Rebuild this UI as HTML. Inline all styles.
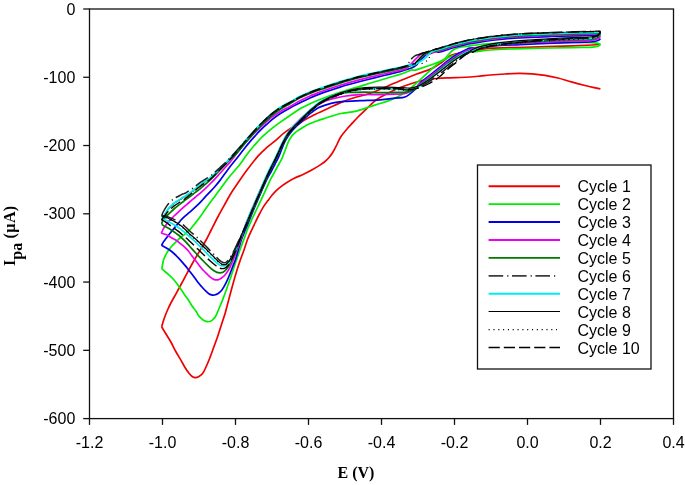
<!DOCTYPE html>
<html><head><meta charset="utf-8"><style>
html,body{margin:0;padding:0;background:#fff;}
body{width:685px;height:485px;overflow:hidden;}
svg{display:block;will-change:transform;}
.sans{font-family:"Liberation Sans",sans-serif;font-size:16px;fill:#000;}
.serif{font-family:"Liberation Serif",serif;font-weight:bold;font-size:16px;fill:#000;}
</style></head><body>
<svg width="685" height="485" viewBox="0 0 685 485">
<rect width="685" height="485" fill="#fff"/>
<g fill="none" stroke-linejoin="round" stroke-linecap="butt">
<path d="M161.60 326.80 C161.92 325.75 162.85 322.47 163.50 320.50 C164.15 318.53 164.72 317.00 165.50 315.00 C166.28 313.00 167.22 310.67 168.20 308.50 C169.18 306.33 170.35 304.00 171.40 302.00 C172.45 300.00 173.48 298.33 174.50 296.50 C175.52 294.67 176.42 293.00 177.50 291.00 C178.58 289.00 179.78 286.75 181.00 284.50 C182.22 282.25 183.55 279.83 184.80 277.50 C186.05 275.17 187.15 273.00 188.50 270.50 C189.85 268.00 191.57 264.87 192.90 262.50 C194.23 260.13 195.38 258.20 196.50 256.30 C197.62 254.40 198.00 253.82 199.60 251.10 C201.20 248.38 204.17 243.52 206.10 240.00 C208.03 236.48 209.25 233.83 211.20 230.00 C213.15 226.17 215.42 221.50 217.80 217.00 C220.18 212.50 223.47 206.67 225.50 203.00 C227.53 199.33 228.70 197.20 230.00 195.00 C231.30 192.80 231.65 192.30 233.30 189.80 C234.95 187.30 237.62 183.30 239.90 180.00 C242.18 176.70 243.98 173.98 247.00 170.00 C250.02 166.02 254.78 159.78 258.00 156.10 C261.22 152.42 263.55 150.37 266.30 147.90 C269.05 145.43 271.20 144.05 274.50 141.30 C277.80 138.55 281.73 134.57 286.10 131.40 C290.47 128.23 296.08 125.03 300.70 122.30 C305.32 119.57 309.18 117.33 313.80 115.00 C318.42 112.67 323.53 110.53 328.40 108.30 C333.27 106.06 338.13 103.52 343.00 101.60 C347.87 99.68 353.22 98.09 357.60 96.76 C361.98 95.43 364.32 95.36 369.30 93.60 C374.28 91.84 382.38 88.34 387.50 86.19 C392.62 84.05 395.25 82.74 400.00 80.75 C404.75 78.76 411.12 76.11 416.00 74.25 C420.88 72.39 426.30 70.74 429.30 69.60 C432.30 68.46 432.22 68.40 434.00 67.40 C435.78 66.40 438.17 64.87 440.00 63.60 C441.83 62.33 443.23 61.13 445.00 59.80 C446.77 58.47 448.93 56.57 450.60 55.60 C452.27 54.63 453.60 54.42 455.00 54.00 C456.40 53.58 456.83 53.52 459.00 53.10 C461.17 52.68 464.50 52.05 468.00 51.50 C471.50 50.95 476.27 50.37 480.00 49.80 C483.73 49.23 481.85 48.55 490.40 48.10 C498.95 47.65 517.67 47.48 531.30 47.10 C544.93 46.72 562.08 46.15 572.20 45.80 C582.32 45.45 587.30 45.23 592.00 45.00 C596.70 44.77 599.00 44.50 600.40 44.40" stroke="#f00000" stroke-width="1.70"/>
<path d="M161.60 326.80 C162.33 328.00 164.50 331.55 166.00 334.00 C167.50 336.45 169.02 338.67 170.60 341.50 C172.18 344.33 173.78 347.90 175.50 351.00 C177.22 354.10 179.32 357.35 180.90 360.10 C182.48 362.85 183.62 365.27 185.00 367.50 C186.38 369.73 187.95 371.97 189.20 373.50 C190.45 375.03 191.47 376.02 192.50 376.70 C193.53 377.38 194.40 377.58 195.40 377.60 C196.40 377.62 197.30 377.48 198.50 376.80 C199.70 376.12 201.35 375.13 202.60 373.50 C203.85 371.87 204.80 369.58 206.00 367.00 C207.20 364.42 208.47 361.42 209.80 358.00 C211.13 354.58 212.63 350.27 214.00 346.50 C215.37 342.73 216.75 339.07 218.00 335.40 C219.25 331.73 220.28 328.28 221.50 324.50 C222.72 320.72 224.22 316.37 225.30 312.70 C226.38 309.03 227.13 305.78 228.00 302.50 C228.87 299.22 229.58 296.42 230.50 293.00 C231.42 289.58 232.42 285.83 233.50 282.00 C234.58 278.17 235.83 273.75 237.00 270.00 C238.17 266.25 239.33 262.83 240.50 259.50 C241.67 256.17 242.83 253.33 244.00 250.00 C245.17 246.67 246.27 242.73 247.50 239.50 C248.73 236.27 250.07 233.54 251.40 230.61 C252.73 227.69 254.12 224.82 255.50 221.97 C256.88 219.12 258.33 216.12 259.70 213.52 C261.07 210.92 262.33 208.52 263.70 206.37 C265.07 204.22 266.52 202.45 267.90 200.61 C269.28 198.77 270.62 196.95 272.00 195.30 C273.38 193.65 274.87 192.04 276.20 190.71 C277.53 189.38 278.28 188.64 280.00 187.30 C281.72 185.96 284.03 184.22 286.50 182.68 C288.97 181.14 292.05 179.42 294.80 178.06 C297.55 176.70 300.25 175.79 303.00 174.50 C305.75 173.21 308.55 171.82 311.30 170.30 C314.05 168.78 317.22 166.87 319.50 165.40 C321.78 163.93 323.42 162.82 325.00 161.50 C326.58 160.18 327.72 159.00 329.00 157.50 C330.28 156.00 331.53 154.35 332.70 152.50 C333.87 150.65 334.62 149.07 336.00 146.40 C337.38 143.73 339.07 139.52 341.00 136.50 C342.93 133.48 345.68 130.57 347.60 128.30 C349.52 126.03 350.77 124.78 352.50 122.90 C354.23 121.02 355.80 119.20 358.00 117.00 C360.20 114.80 363.53 111.78 365.70 109.70 C367.87 107.62 369.28 106.12 371.00 104.50 C372.72 102.88 374.22 101.33 376.00 100.00 C377.78 98.67 378.80 98.08 381.70 96.50 C384.60 94.92 390.35 92.00 393.40 90.50 C396.45 89.00 396.83 88.72 400.00 87.50 C403.17 86.28 408.23 84.45 412.40 83.20 C416.57 81.95 420.90 80.78 425.00 80.00 C429.10 79.22 432.93 78.87 437.00 78.50 C441.07 78.13 445.57 77.97 449.40 77.80 C453.23 77.63 456.57 77.63 460.00 77.50 C463.43 77.37 466.67 77.23 470.00 77.00 C473.33 76.77 476.60 76.43 480.00 76.10 C483.40 75.77 486.23 75.35 490.40 75.00 C494.57 74.65 500.27 74.27 505.00 74.00 C509.73 73.73 514.30 73.43 518.80 73.40 C523.30 73.37 527.62 73.48 532.00 73.80 C536.38 74.12 540.77 74.60 545.10 75.30 C549.43 76.00 553.62 76.90 558.00 78.00 C562.38 79.10 566.90 80.65 571.40 81.90 C575.90 83.15 581.40 84.58 585.00 85.50 C588.60 86.42 590.43 86.85 593.00 87.40 C595.57 87.95 599.17 88.57 600.40 88.80" stroke="#f00000" stroke-width="1.70"/>
<path d="M161.80 268.80 C162.07 267.40 162.78 262.62 163.40 260.40 C164.02 258.18 164.73 257.05 165.50 255.50 C166.27 253.95 166.85 252.77 168.00 251.10 C169.15 249.43 170.85 247.27 172.40 245.50 C173.95 243.73 175.93 241.83 177.30 240.50 C178.67 239.17 179.32 238.55 180.60 237.50 C181.88 236.45 183.77 235.21 185.00 234.19 C186.23 233.16 187.00 232.29 188.00 231.34 C189.00 230.40 189.83 229.81 191.00 228.50 C192.17 227.19 193.50 225.38 195.00 223.47 C196.50 221.57 198.33 219.36 200.00 217.07 C201.67 214.78 203.33 212.14 205.00 209.75 C206.67 207.36 208.33 205.01 210.00 202.75 C211.67 200.49 213.33 198.45 215.00 196.21 C216.67 193.96 218.33 191.58 220.00 189.30 C221.67 187.01 223.33 184.69 225.00 182.47 C226.67 180.26 228.33 178.05 230.00 176.01 C231.67 173.97 233.33 172.19 235.00 170.24 C236.67 168.29 238.33 166.46 240.00 164.29 C241.67 162.12 243.33 159.52 245.00 157.22 C246.67 154.92 248.33 152.60 250.00 150.50 C251.67 148.40 253.33 146.57 255.00 144.65 C256.67 142.73 258.17 140.87 260.00 139.00 C261.83 137.13 264.00 135.21 266.00 133.44 C268.00 131.67 269.67 130.20 272.00 128.36 C274.33 126.52 277.00 124.55 280.00 122.40 C283.00 120.25 286.67 117.73 290.00 115.47 C293.33 113.22 296.67 110.82 300.00 108.85 C303.33 106.88 306.67 105.22 310.00 103.65 C313.33 102.08 316.67 100.75 320.00 99.45 C323.33 98.15 326.67 97.01 330.00 95.83 C333.33 94.66 336.67 93.49 340.00 92.40 C343.33 91.31 346.67 90.30 350.00 89.30 C353.33 88.30 356.67 87.41 360.00 86.40 C363.33 85.39 366.67 84.28 370.00 83.25 C373.33 82.22 376.67 81.19 380.00 80.20 C383.33 79.21 386.67 78.27 390.00 77.30 C393.33 76.33 397.33 75.25 400.00 74.40 C402.67 73.55 404.08 72.91 406.00 72.17 C407.92 71.44 410.00 70.33 411.50 70.00 C413.00 69.67 413.58 70.43 415.00 70.20 C416.42 69.97 417.62 69.38 420.00 68.60 C422.38 67.82 426.20 66.60 429.30 65.50 C432.40 64.40 436.32 62.92 438.60 62.00 C440.88 61.08 441.77 60.75 443.00 60.00 C444.23 59.25 445.08 58.42 446.00 57.50 C446.92 56.58 447.58 55.53 448.50 54.50 C449.42 53.47 450.37 52.25 451.50 51.30 C452.63 50.35 453.60 49.52 455.30 48.80 C457.00 48.08 459.25 47.48 461.70 47.00 C464.15 46.52 466.95 46.32 470.00 45.90 C473.05 45.48 475.00 44.95 480.00 44.50 C485.00 44.05 493.33 43.53 500.00 43.20 C506.67 42.87 510.00 42.60 520.00 42.50 C530.00 42.40 550.00 42.62 560.00 42.60 C570.00 42.58 574.67 42.40 580.00 42.40 C585.33 42.40 589.17 42.47 592.00 42.60 C594.83 42.73 595.60 42.92 597.00 43.20 C598.40 43.48 599.83 44.12 600.40 44.30" stroke="#00ee00" stroke-width="1.70"/>
<path d="M161.80 268.80 C162.52 269.42 164.13 270.72 166.10 272.50 C168.07 274.28 171.12 276.72 173.60 279.50 C176.08 282.28 179.15 286.63 181.00 289.20 C182.85 291.77 183.47 293.10 184.70 294.90 C185.93 296.70 187.17 298.15 188.40 300.00 C189.63 301.85 190.85 304.17 192.10 306.00 C193.35 307.83 194.87 309.47 195.90 311.00 C196.93 312.53 197.37 313.93 198.30 315.20 C199.23 316.47 200.47 317.67 201.50 318.60 C202.53 319.53 203.48 320.28 204.50 320.80 C205.52 321.32 206.60 321.62 207.60 321.70 C208.60 321.78 209.60 321.67 210.50 321.30 C211.40 320.93 212.17 320.30 213.00 319.50 C213.83 318.70 214.67 317.92 215.50 316.50 C216.33 315.08 217.17 312.92 218.00 311.00 C218.83 309.08 219.75 306.82 220.50 305.00 C221.25 303.18 221.58 302.47 222.50 300.10 C223.42 297.73 224.58 294.75 226.00 290.80 C227.42 286.85 229.42 281.10 231.00 276.43 C232.58 271.75 234.02 267.15 235.50 262.75 C236.98 258.35 238.48 253.96 239.90 250.00 C241.32 246.04 242.63 242.70 244.00 239.00 C245.37 235.30 246.72 231.22 248.10 227.80 C249.48 224.38 250.92 221.51 252.30 218.50 C253.68 215.49 255.03 212.65 256.40 209.74 C257.77 206.83 259.13 203.93 260.50 201.05 C261.87 198.17 263.08 195.75 264.60 192.46 C266.12 189.17 268.20 184.21 269.60 181.30 C271.00 178.39 271.85 177.13 273.00 175.00 C274.15 172.87 275.42 170.50 276.50 168.50 C277.58 166.50 278.55 164.78 279.50 163.00 C280.45 161.22 281.45 159.42 282.20 157.80 C282.95 156.18 283.45 154.72 284.00 153.30 C284.55 151.88 284.97 150.73 285.50 149.30 C286.03 147.87 286.65 146.12 287.20 144.70 C287.75 143.28 288.20 142.02 288.80 140.80 C289.40 139.58 290.10 138.43 290.80 137.40 C291.50 136.37 292.22 135.45 293.00 134.60 C293.78 133.75 294.67 132.98 295.50 132.30 C296.33 131.62 297.25 131.02 298.00 130.50 C298.75 129.98 299.00 129.82 300.00 129.20 C301.00 128.58 302.67 127.57 304.00 126.80 C305.33 126.03 306.00 125.53 308.00 124.60 C310.00 123.67 313.17 122.27 316.00 121.20 C318.83 120.13 322.17 119.10 325.00 118.20 C327.83 117.30 330.33 116.58 333.00 115.80 C335.67 115.02 337.75 114.16 341.00 113.50 C344.25 112.84 349.27 112.42 352.50 111.81 C355.73 111.21 357.65 110.67 360.40 109.87 C363.15 109.07 365.58 108.13 369.00 107.03 C372.42 105.92 377.40 104.42 380.90 103.26 C384.40 102.11 387.28 101.14 390.00 100.10 C392.72 99.06 395.03 98.09 397.20 97.01 C399.37 95.93 400.95 94.92 403.00 93.62 C405.05 92.33 407.50 90.81 409.50 89.26 C411.50 87.71 412.97 86.13 415.00 84.33 C417.03 82.52 419.53 80.42 421.70 78.44 C423.87 76.46 425.95 74.36 428.00 72.42 C430.05 70.48 432.00 68.55 434.00 66.81 C436.00 65.07 437.95 63.40 440.00 62.00 C442.05 60.60 443.97 59.50 446.30 58.40 C448.63 57.30 451.28 56.25 454.00 55.40 C456.72 54.55 459.93 53.83 462.60 53.30 C465.27 52.77 467.10 52.55 470.00 52.20 C472.90 51.85 476.60 51.57 480.00 51.20 C483.40 50.83 485.40 50.37 490.40 50.00 C495.40 49.63 503.18 49.27 510.00 49.00 C516.82 48.73 520.93 48.63 531.30 48.40 C541.67 48.17 562.42 47.78 572.20 47.60 C581.98 47.42 586.20 47.43 590.00 47.30 C593.80 47.17 593.58 47.02 595.00 46.80 C596.42 46.58 597.60 46.42 598.50 46.00 C599.40 45.58 600.08 44.58 600.40 44.30" stroke="#00ee00" stroke-width="1.70"/>
<path d="M161.50 245.50 C161.75 245.02 162.42 243.53 163.00 242.60 C163.58 241.67 164.08 241.14 165.00 239.90 C165.92 238.66 167.27 236.76 168.50 235.18 C169.73 233.59 171.07 232.00 172.40 230.37 C173.73 228.74 175.13 227.02 176.50 225.37 C177.87 223.72 179.18 221.99 180.60 220.46 C182.02 218.93 183.77 217.33 185.00 216.19 C186.23 215.04 187.00 214.45 188.00 213.59 C189.00 212.74 189.83 212.10 191.00 211.06 C192.17 210.02 193.50 208.78 195.00 207.38 C196.50 205.98 198.33 204.38 200.00 202.67 C201.67 200.97 203.33 198.94 205.00 197.15 C206.67 195.36 208.33 193.73 210.00 191.95 C211.67 190.17 213.33 188.42 215.00 186.48 C216.67 184.55 218.33 182.50 220.00 180.36 C221.67 178.21 223.33 175.87 225.00 173.60 C226.67 171.33 228.33 168.93 230.00 166.76 C231.67 164.59 233.33 162.68 235.00 160.59 C236.67 158.51 238.33 156.38 240.00 154.24 C241.67 152.11 243.33 149.87 245.00 147.77 C246.67 145.67 248.33 143.60 250.00 141.65 C251.67 139.70 253.33 137.90 255.00 136.08 C256.67 134.25 258.17 132.56 260.00 130.70 C261.83 128.84 264.00 126.78 266.00 124.94 C268.00 123.10 269.67 121.52 272.00 119.66 C274.33 117.80 277.00 115.76 280.00 113.80 C283.00 111.84 286.67 109.75 290.00 107.92 C293.33 106.10 296.67 104.50 300.00 102.85 C303.33 101.20 306.67 99.51 310.00 98.02 C313.33 96.53 316.67 95.18 320.00 93.91 C323.33 92.64 326.67 91.55 330.00 90.41 C333.33 89.28 336.67 88.14 340.00 87.10 C343.33 86.06 346.67 85.13 350.00 84.20 C353.33 83.27 356.67 82.38 360.00 81.50 C363.33 80.62 366.67 79.78 370.00 78.95 C373.33 78.12 376.67 77.32 380.00 76.50 C383.33 75.68 386.67 74.87 390.00 74.05 C393.33 73.23 397.33 72.31 400.00 71.60 C402.67 70.89 404.08 70.39 406.00 69.79 C407.92 69.19 409.83 68.75 411.50 68.00 C413.17 67.25 414.68 66.42 416.00 65.30 C417.32 64.18 418.10 62.70 419.40 61.30 C420.70 59.90 422.32 58.30 423.80 56.90 C425.28 55.50 427.15 53.73 428.30 52.90 C429.45 52.07 429.63 52.18 430.70 51.90 C431.77 51.62 433.15 51.18 434.70 51.20 C436.25 51.22 437.55 52.37 440.00 52.00 C442.45 51.63 446.90 49.78 449.40 49.00 C451.90 48.22 452.93 47.87 455.00 47.30 C457.07 46.73 459.30 46.20 461.80 45.60 C464.30 45.00 466.97 44.28 470.00 43.70 C473.03 43.12 475.83 42.72 480.00 42.10 C484.17 41.48 489.85 40.62 495.00 40.00 C500.15 39.38 505.07 38.85 510.90 38.40 C516.73 37.95 523.20 37.62 530.00 37.30 C536.80 36.98 544.20 36.75 551.70 36.50 C559.20 36.25 568.62 35.98 575.00 35.80 C581.38 35.62 586.33 35.50 590.00 35.40 C593.67 35.30 595.27 35.23 597.00 35.20 C598.73 35.17 599.83 35.20 600.40 35.20" stroke="#0000e6" stroke-width="1.70"/>
<path d="M161.50 245.20 C162.08 245.55 163.60 246.45 165.00 247.30 C166.40 248.15 168.32 249.18 169.90 250.30 C171.48 251.42 172.97 252.62 174.50 254.00 C176.03 255.38 177.35 256.70 179.10 258.60 C180.85 260.50 183.45 263.55 185.00 265.40 C186.55 267.25 187.20 268.18 188.40 269.70 C189.60 271.22 190.65 272.45 192.20 274.50 C193.75 276.55 196.15 280.00 197.70 282.00 C199.25 284.00 200.25 285.08 201.50 286.50 C202.75 287.92 204.03 289.33 205.20 290.50 C206.37 291.67 207.45 292.77 208.50 293.50 C209.55 294.23 210.50 294.65 211.50 294.90 C212.50 295.15 213.38 295.23 214.50 295.00 C215.62 294.77 217.03 294.25 218.20 293.50 C219.37 292.75 220.53 291.65 221.50 290.50 C222.47 289.35 223.08 288.24 224.00 286.62 C224.92 285.00 226.05 282.83 227.00 280.80 C227.95 278.77 228.78 276.75 229.70 274.46 C230.62 272.17 231.53 269.56 232.50 267.07 C233.47 264.59 234.58 262.20 235.50 259.52 C236.42 256.85 237.28 253.42 238.00 251.00 C238.72 248.58 239.13 247.17 239.80 245.00 C240.47 242.83 241.05 240.58 242.00 238.00 C242.95 235.42 244.25 232.50 245.50 229.50 C246.75 226.50 248.17 223.25 249.50 220.00 C250.83 216.75 252.08 213.42 253.50 210.00 C254.92 206.58 256.50 203.00 258.00 199.50 C259.50 196.00 261.00 192.42 262.50 189.00 C264.00 185.58 265.55 181.92 267.00 179.00 C268.45 176.08 269.90 173.92 271.20 171.50 C272.50 169.08 273.62 166.80 274.80 164.50 C275.98 162.20 277.18 160.19 278.30 157.70 C279.42 155.21 280.40 152.23 281.50 149.57 C282.60 146.92 283.92 143.78 284.90 141.75 C285.88 139.71 286.58 138.71 287.40 137.37 C288.22 136.03 288.53 135.29 289.80 133.69 C291.07 132.09 293.07 129.73 295.00 127.75 C296.93 125.77 299.57 123.60 301.40 121.83 C303.23 120.07 304.35 118.68 306.00 117.15 C307.65 115.62 309.30 114.22 311.30 112.68 C313.30 111.15 315.25 109.33 318.00 107.95 C320.75 106.57 324.80 105.33 327.80 104.41 C330.80 103.48 333.25 102.89 336.00 102.40 C338.75 101.91 340.17 101.73 344.30 101.45 C348.43 101.16 354.85 100.95 360.80 100.69 C366.75 100.43 374.30 100.31 380.00 99.90 C385.70 99.49 390.83 98.68 395.00 98.20 C399.17 97.72 401.83 98.28 405.00 97.00 C408.17 95.72 411.50 92.83 414.00 90.50 C416.50 88.17 417.45 85.48 420.00 83.00 C422.55 80.52 426.20 78.07 429.30 75.60 C432.40 73.13 435.52 70.67 438.60 68.20 C441.68 65.73 444.72 63.12 447.80 60.80 C450.88 58.48 454.00 56.17 457.10 54.30 C460.20 52.43 464.25 50.63 466.40 49.60 C468.55 48.57 467.73 48.45 470.00 48.10 C472.27 47.75 475.00 47.93 480.00 47.50 C485.00 47.07 493.33 45.98 500.00 45.50 C506.67 45.02 510.00 45.03 520.00 44.60 C530.00 44.17 549.17 43.30 560.00 42.90 C570.83 42.50 579.33 42.43 585.00 42.20 C590.67 41.97 591.75 41.82 594.00 41.50 C596.25 41.18 597.43 40.80 598.50 40.30 C599.57 39.80 600.08 38.80 600.40 38.50" stroke="#0000e6" stroke-width="1.70"/>
<path d="M161.30 233.30 C161.63 232.55 162.62 230.05 163.30 228.80 C163.98 227.55 164.62 226.90 165.40 225.80 C166.18 224.70 167.17 223.23 168.00 222.20 C168.83 221.17 169.40 220.63 170.40 219.60 C171.40 218.57 172.73 217.22 174.00 216.00 C175.27 214.78 176.67 213.53 178.00 212.30 C179.33 211.07 180.52 209.93 182.00 208.60 C183.48 207.27 185.40 205.58 186.90 204.30 C188.40 203.02 189.65 202.03 191.00 200.90 C192.35 199.77 193.50 198.77 195.00 197.50 C196.50 196.23 198.33 194.75 200.00 193.30 C201.67 191.85 203.33 190.35 205.00 188.80 C206.67 187.25 208.33 185.67 210.00 184.00 C211.67 182.33 213.33 180.58 215.00 178.80 C216.67 177.02 218.33 175.13 220.00 173.30 C221.67 171.47 223.33 169.67 225.00 167.80 C226.67 165.93 228.33 164.11 230.00 162.10 C231.67 160.09 233.33 157.91 235.00 155.77 C236.67 153.62 238.33 151.32 240.00 149.24 C241.67 147.17 243.33 145.22 245.00 143.30 C246.67 141.37 248.33 139.47 250.00 137.70 C251.67 135.93 253.33 134.30 255.00 132.65 C256.67 131.00 258.17 129.54 260.00 127.80 C261.83 126.06 264.00 123.98 266.00 122.19 C268.00 120.40 269.67 118.81 272.00 117.06 C274.33 115.31 277.00 113.44 280.00 111.67 C283.00 109.89 286.67 108.23 290.00 106.42 C293.33 104.62 296.67 102.59 300.00 100.85 C303.33 99.11 306.67 97.45 310.00 95.98 C313.33 94.51 316.67 93.27 320.00 92.03 C323.33 90.79 326.67 89.69 330.00 88.57 C333.33 87.45 336.67 86.34 340.00 85.30 C343.33 84.26 346.67 83.30 350.00 82.35 C353.33 81.40 356.67 80.46 360.00 79.60 C363.33 78.74 366.67 77.98 370.00 77.20 C373.33 76.42 376.67 75.67 380.00 74.90 C383.33 74.13 386.67 73.37 390.00 72.60 C393.33 71.83 397.33 70.96 400.00 70.30 C402.67 69.64 404.27 69.56 406.00 68.65 C407.73 67.73 408.92 66.26 410.40 64.80 C411.88 63.34 413.17 61.63 414.90 59.90 C416.63 58.17 419.28 55.52 420.80 54.40 C422.32 53.28 422.83 53.22 424.00 53.20 C425.17 53.18 426.02 54.47 427.80 54.30 C429.58 54.13 432.67 52.78 434.70 52.20 C436.73 51.62 437.55 51.53 440.00 50.80 C442.45 50.07 446.90 48.58 449.40 47.80 C451.90 47.02 452.93 46.67 455.00 46.10 C457.07 45.53 459.30 45.00 461.80 44.40 C464.30 43.80 466.97 43.08 470.00 42.50 C473.03 41.92 475.83 41.52 480.00 40.90 C484.17 40.28 489.85 39.42 495.00 38.80 C500.15 38.18 505.07 37.65 510.90 37.20 C516.73 36.75 523.20 36.42 530.00 36.10 C536.80 35.78 544.20 35.55 551.70 35.30 C559.20 35.05 568.62 34.78 575.00 34.60 C581.38 34.42 586.33 34.30 590.00 34.20 C593.67 34.10 595.27 34.03 597.00 34.00 C598.73 33.97 599.83 34.00 600.40 34.00" stroke="#ee00ee" stroke-width="1.70"/>
<path d="M161.30 233.20 C162.18 233.45 164.98 233.98 166.60 234.70 C168.22 235.42 169.35 236.53 171.00 237.50 C172.65 238.47 175.00 239.53 176.50 240.50 C178.00 241.47 178.63 242.18 180.00 243.30 C181.37 244.42 183.37 246.00 184.70 247.20 C186.03 248.40 186.75 249.00 188.00 250.50 C189.25 252.00 190.30 253.67 192.20 256.20 C194.10 258.73 197.60 263.40 199.40 265.70 C201.20 268.00 201.80 268.68 203.00 270.00 C204.20 271.32 205.43 272.47 206.60 273.60 C207.77 274.73 208.93 275.90 210.00 276.80 C211.07 277.70 212.08 278.48 213.00 279.00 C213.92 279.52 214.58 279.78 215.50 279.90 C216.42 280.02 217.57 279.98 218.50 279.70 C219.43 279.42 220.18 278.82 221.10 278.20 C222.02 277.58 223.05 276.95 224.00 276.00 C224.95 275.05 225.85 273.87 226.80 272.50 C227.75 271.13 228.73 269.63 229.70 267.80 C230.67 265.97 231.63 263.80 232.60 261.50 C233.57 259.20 234.53 256.53 235.50 254.00 C236.47 251.47 237.53 248.67 238.40 246.30 C239.27 243.93 239.93 242.10 240.70 239.80 C241.47 237.50 242.12 235.22 243.00 232.50 C243.88 229.78 244.83 226.58 246.00 223.50 C247.17 220.42 248.67 217.17 250.00 214.00 C251.33 210.83 252.58 207.83 254.00 204.50 C255.42 201.17 257.00 197.42 258.50 194.00 C260.00 190.58 261.50 187.25 263.00 184.00 C264.50 180.75 266.08 177.42 267.50 174.50 C268.92 171.58 270.17 169.17 271.50 166.50 C272.83 163.83 274.25 161.08 275.50 158.50 C276.75 155.92 277.83 153.57 279.00 151.00 C280.17 148.43 281.42 145.40 282.50 143.10 C283.58 140.80 284.42 139.09 285.50 137.22 C286.58 135.35 287.67 133.72 289.00 131.86 C290.33 130.00 291.83 127.97 293.50 126.04 C295.17 124.11 296.92 122.28 299.00 120.26 C301.08 118.24 303.83 115.79 306.00 113.92 C308.17 112.05 310.30 110.34 312.00 109.04 C313.70 107.74 314.53 107.18 316.20 106.12 C317.87 105.07 320.07 103.69 322.00 102.70 C323.93 101.71 325.63 100.96 327.80 100.20 C329.97 99.44 332.25 98.82 335.00 98.17 C337.75 97.51 340.13 96.86 344.30 96.26 C348.47 95.67 354.05 94.88 360.00 94.60 C365.95 94.32 374.17 94.67 380.00 94.60 C385.83 94.53 390.83 94.38 395.00 94.20 C399.17 94.02 401.83 94.37 405.00 93.50 C408.17 92.63 411.50 90.58 414.00 89.00 C416.50 87.42 417.45 86.00 420.00 84.00 C422.55 82.00 426.20 79.38 429.30 77.00 C432.40 74.62 435.52 72.15 438.60 69.70 C441.68 67.25 444.72 64.62 447.80 62.30 C450.88 59.98 454.00 57.68 457.10 55.80 C460.20 53.92 464.25 52.05 466.40 51.00 C468.55 49.95 467.73 50.18 470.00 49.50 C472.27 48.82 475.00 47.72 480.00 46.90 C485.00 46.08 493.33 45.20 500.00 44.60 C506.67 44.00 510.00 43.83 520.00 43.30 C530.00 42.77 549.17 41.85 560.00 41.40 C570.83 40.95 579.33 40.87 585.00 40.60 C590.67 40.33 591.75 40.18 594.00 39.80 C596.25 39.42 597.43 38.93 598.50 38.30 C599.57 37.67 600.08 36.38 600.40 36.00" stroke="#ee00ee" stroke-width="1.70"/>
<path d="M161.80 224.50 C161.88 224.00 161.93 222.45 162.30 221.50 C162.67 220.55 163.35 219.65 164.00 218.80 C164.65 217.95 165.13 217.48 166.20 216.40 C167.27 215.32 169.02 213.62 170.40 212.30 C171.78 210.98 173.13 209.68 174.50 208.50 C175.87 207.32 177.23 206.28 178.60 205.20 C179.97 204.12 181.32 203.07 182.70 202.00 C184.08 200.93 185.52 199.82 186.90 198.80 C188.28 197.78 189.65 196.92 191.00 195.90 C192.35 194.88 193.50 193.88 195.00 192.70 C196.50 191.52 198.33 190.15 200.00 188.80 C201.67 187.45 203.33 186.03 205.00 184.60 C206.67 183.17 208.33 181.77 210.00 180.20 C211.67 178.63 213.33 176.92 215.00 175.20 C216.67 173.48 218.33 171.65 220.00 169.90 C221.67 168.15 223.33 166.43 225.00 164.70 C226.67 162.97 228.33 161.08 230.00 159.50 C231.67 157.92 233.33 156.89 235.00 155.22 C236.67 153.54 238.33 151.43 240.00 149.44 C241.67 147.45 243.33 145.27 245.00 143.27 C246.67 141.27 248.33 139.34 250.00 137.45 C251.67 135.56 253.33 133.73 255.00 131.93 C256.67 130.12 258.17 128.47 260.00 126.60 C261.83 124.73 264.00 122.61 266.00 120.73 C268.00 118.85 269.67 117.22 272.00 115.34 C274.33 113.46 277.00 111.38 280.00 109.43 C283.00 107.49 286.67 105.61 290.00 103.67 C293.33 101.74 296.67 99.55 300.00 97.85 C303.33 96.15 306.67 94.80 310.00 93.45 C313.33 92.10 316.67 90.94 320.00 89.75 C323.33 88.56 326.67 87.44 330.00 86.33 C333.33 85.22 336.67 84.12 340.00 83.10 C343.33 82.08 346.67 81.13 350.00 80.20 C353.33 79.27 356.67 78.33 360.00 77.50 C363.33 76.67 366.67 75.95 370.00 75.20 C373.33 74.45 376.67 73.73 380.00 73.00 C383.33 72.27 386.67 71.53 390.00 70.80 C393.33 70.07 397.33 69.22 400.00 68.60 C402.67 67.98 404.08 67.57 406.00 67.05 C407.92 66.53 410.17 65.88 411.50 65.50 C412.83 65.12 412.85 65.68 414.00 64.80 C415.15 63.92 416.93 61.73 418.40 60.20 C419.87 58.67 421.53 56.75 422.80 55.60 C424.07 54.45 424.02 54.00 426.00 53.30 C427.98 52.60 432.37 51.95 434.70 51.40 C437.03 50.85 437.55 50.73 440.00 50.00 C442.45 49.27 446.90 47.78 449.40 47.00 C451.90 46.22 452.93 45.87 455.00 45.30 C457.07 44.73 459.30 44.20 461.80 43.60 C464.30 43.00 466.97 42.28 470.00 41.70 C473.03 41.12 475.83 40.72 480.00 40.10 C484.17 39.48 489.85 38.62 495.00 38.00 C500.15 37.38 505.07 36.85 510.90 36.40 C516.73 35.95 523.20 35.62 530.00 35.30 C536.80 34.98 544.20 34.75 551.70 34.50 C559.20 34.25 568.62 33.98 575.00 33.80 C581.38 33.62 586.33 33.50 590.00 33.40 C593.67 33.30 595.27 33.23 597.00 33.20 C598.73 33.17 599.83 33.20 600.40 33.20" stroke="#007800" stroke-width="1.70"/>
<path d="M161.80 224.50 C162.33 224.83 163.88 225.87 165.00 226.50 C166.12 227.13 167.27 227.58 168.50 228.30 C169.73 229.02 171.07 229.95 172.40 230.84 C173.73 231.73 175.13 232.66 176.50 233.65 C177.87 234.64 179.18 235.56 180.60 236.79 C182.02 238.02 183.43 239.40 185.00 241.05 C186.57 242.70 188.33 244.84 190.00 246.70 C191.67 248.56 193.33 250.37 195.00 252.20 C196.67 254.03 198.33 255.94 200.00 257.70 C201.67 259.46 203.33 261.10 205.00 262.75 C206.67 264.40 208.50 266.27 210.00 267.60 C211.50 268.93 212.83 269.93 214.00 270.72 C215.17 271.51 216.00 272.01 217.00 272.36 C218.00 272.71 219.00 272.83 220.00 272.80 C221.00 272.77 222.00 272.70 223.00 272.20 C224.00 271.70 225.00 270.92 226.00 269.80 C227.00 268.68 228.00 267.22 229.00 265.50 C230.00 263.78 230.92 261.78 232.00 259.50 C233.08 257.22 234.50 254.17 235.50 251.80 C236.50 249.43 237.15 247.48 238.00 245.30 C238.85 243.12 239.68 241.08 240.60 238.70 C241.52 236.32 242.05 234.40 243.50 231.00 C244.95 227.60 247.63 222.08 249.30 218.30 C250.97 214.52 252.10 211.58 253.50 208.30 C254.90 205.02 256.32 201.77 257.70 198.60 C259.08 195.43 260.50 192.27 261.80 189.30 C263.10 186.33 264.27 183.60 265.50 180.80 C266.73 178.00 268.03 175.00 269.20 172.50 C270.37 170.00 271.40 168.00 272.50 165.80 C273.60 163.60 274.75 161.47 275.80 159.30 C276.85 157.13 277.85 154.86 278.80 152.80 C279.75 150.74 280.63 148.73 281.50 146.91 C282.37 145.10 283.08 143.66 284.00 141.90 C284.92 140.14 286.08 137.89 287.00 136.33 C287.92 134.76 288.67 133.65 289.50 132.51 C290.33 131.38 291.00 130.63 292.00 129.50 C293.00 128.38 294.42 126.86 295.50 125.76 C296.58 124.66 297.17 124.21 298.50 122.89 C299.83 121.57 301.83 119.51 303.50 117.85 C305.17 116.19 306.83 114.49 308.50 112.93 C310.17 111.37 311.58 110.09 313.50 108.50 C315.42 106.91 317.67 104.97 320.00 103.40 C322.33 101.83 324.75 100.42 327.50 99.08 C330.25 97.73 333.67 96.41 336.50 95.35 C339.33 94.29 341.83 93.20 344.50 92.72 C347.17 92.23 349.08 92.54 352.50 92.44 C355.92 92.34 360.42 92.06 365.00 92.10 C369.58 92.14 375.00 92.62 380.00 92.68 C385.00 92.74 390.50 92.56 395.00 92.46 C399.50 92.35 404.17 92.33 407.00 92.04 C409.83 91.76 410.50 91.33 412.00 90.74 C413.50 90.15 414.67 89.42 416.00 88.50 C417.33 87.58 417.78 86.88 420.00 85.20 C422.22 83.52 426.20 80.77 429.30 78.40 C432.40 76.03 435.52 73.47 438.60 71.00 C441.68 68.53 444.72 65.93 447.80 63.60 C450.88 61.27 454.00 58.90 457.10 57.00 C460.20 55.10 464.25 53.27 466.40 52.20 C468.55 51.13 468.90 50.81 470.00 50.60 C471.10 50.39 471.33 51.32 473.00 50.96 C474.67 50.60 477.17 49.25 480.00 48.45 C482.83 47.65 486.67 46.76 490.00 46.14 C493.33 45.52 495.00 45.30 500.00 44.73 C505.00 44.15 513.33 43.28 520.00 42.70 C526.67 42.13 533.33 41.68 540.00 41.28 C546.67 40.87 553.33 40.54 560.00 40.25 C566.67 39.96 575.00 39.71 580.00 39.53 C585.00 39.34 587.50 39.30 590.00 39.11 C592.50 38.93 593.58 38.84 595.00 38.41 C596.42 37.97 597.60 37.32 598.50 36.50 C599.40 35.68 600.08 34.00 600.40 33.50" stroke="#007800" stroke-width="1.70"/>
<path d="M161.50 218.50 C162.08 218.70 163.88 219.23 165.00 219.70 C166.12 220.17 167.03 220.65 168.20 221.30 C169.37 221.95 170.62 222.77 172.00 223.60 C173.38 224.43 175.17 225.47 176.50 226.30 C177.83 227.13 178.90 227.78 180.00 228.60 C181.10 229.42 182.02 230.33 183.10 231.20 C184.18 232.07 185.35 232.87 186.50 233.80 C187.65 234.73 188.58 235.52 190.00 236.80 C191.42 238.08 193.33 239.90 195.00 241.50 C196.67 243.10 198.33 244.73 200.00 246.40 C201.67 248.07 203.33 249.80 205.00 251.50 C206.67 253.20 208.33 254.95 210.00 256.60 C211.67 258.25 213.50 260.07 215.00 261.40 C216.50 262.73 217.83 263.87 219.00 264.60 C220.17 265.33 221.00 265.63 222.00 265.80 C223.00 265.97 224.00 266.02 225.00 265.60 C226.00 265.18 227.00 264.40 228.00 263.30 C229.00 262.20 230.00 260.68 231.00 259.00 C232.00 257.32 233.00 255.28 234.00 253.20 C235.00 251.12 236.00 248.83 237.00 246.50 C238.00 244.17 239.08 241.42 240.00 239.20 C240.92 236.98 241.13 236.73 242.50 233.20 C243.87 229.67 246.55 222.20 248.20 218.00 C249.85 213.80 251.00 211.28 252.40 208.00 C253.80 204.72 255.22 201.47 256.60 198.30 C257.98 195.13 259.40 191.97 260.70 189.00 C262.00 186.03 263.17 183.30 264.40 180.50 C265.63 177.70 266.93 174.70 268.10 172.20 C269.27 169.70 270.30 167.70 271.40 165.50 C272.50 163.30 273.65 161.17 274.70 159.00 C275.75 156.83 276.75 154.58 277.70 152.50 C278.65 150.42 279.53 148.36 280.40 146.53 C281.27 144.70 281.98 143.29 282.90 141.53 C283.82 139.77 284.98 137.53 285.90 135.97 C286.82 134.41 287.57 133.31 288.40 132.17 C289.23 131.04 289.90 130.29 290.90 129.16 C291.90 128.04 293.32 126.52 294.40 125.41 C295.48 124.30 296.07 123.84 297.40 122.52 C298.73 121.20 300.73 119.17 302.40 117.50 C304.07 115.83 305.73 114.08 307.40 112.50 C309.07 110.92 310.48 109.62 312.40 108.00 C314.32 106.38 316.57 104.39 318.90 102.80 C321.23 101.21 323.65 99.82 326.40 98.47 C329.15 97.11 332.57 95.77 335.40 94.69 C338.23 93.61 340.55 92.66 343.40 91.96 C346.25 91.25 348.90 90.96 352.50 90.45 C356.10 89.94 360.42 89.21 365.00 88.90 C369.58 88.59 375.00 88.58 380.00 88.60 C385.00 88.62 390.00 88.83 395.00 89.00 C400.00 89.17 406.50 89.77 410.00 89.60 C413.50 89.43 414.33 88.63 416.00 88.00 C417.67 87.37 417.78 87.25 420.00 85.80 C422.22 84.35 426.20 81.62 429.30 79.30 C432.40 76.98 435.52 74.37 438.60 71.90 C441.68 69.43 444.72 66.82 447.80 64.50 C450.88 62.18 454.32 59.87 457.10 58.00 C459.88 56.13 462.35 54.50 464.50 53.30 C466.65 52.10 468.58 51.35 470.00 50.80 C471.42 50.25 471.33 50.55 473.00 50.00 C474.67 49.45 477.17 48.30 480.00 47.50 C482.83 46.70 486.67 45.83 490.00 45.20 C493.33 44.57 495.00 44.28 500.00 43.70 C505.00 43.12 513.33 42.25 520.00 41.70 C526.67 41.15 533.33 40.77 540.00 40.40 C546.67 40.03 553.33 39.77 560.00 39.50 C566.67 39.23 575.00 39.00 580.00 38.80 C585.00 38.60 587.50 38.52 590.00 38.30 C592.50 38.08 593.58 37.97 595.00 37.50 C596.42 37.03 597.60 36.35 598.50 35.50 C599.40 34.65 600.08 32.92 600.40 32.40" stroke="#00eeee" stroke-width="1.70"/>
<path d="M161.70 219.85 C161.92 219.36 162.52 217.79 163.00 216.94 C163.48 216.09 164.02 215.62 164.60 214.75 C165.18 213.88 165.82 212.73 166.50 211.72 C167.18 210.71 167.87 209.69 168.70 208.70 C169.53 207.71 170.53 206.72 171.50 205.78 C172.47 204.84 173.33 203.96 174.50 203.07 C175.67 202.18 177.13 201.34 178.50 200.46 C179.87 199.57 181.62 198.45 182.70 197.79 C183.78 197.12 184.12 197.05 185.00 196.49 C185.88 195.92 187.00 195.08 188.00 194.39 C189.00 193.71 189.83 193.22 191.00 192.36 C192.17 191.50 193.50 190.44 195.00 189.26 C196.50 188.08 198.33 186.55 200.00 185.27 C201.67 183.99 203.33 182.77 205.00 181.60 C206.67 180.43 208.33 179.57 210.00 178.25 C211.67 176.93 213.33 175.27 215.00 173.67 C216.67 172.07 218.33 170.30 220.00 168.67 C221.67 167.04 223.33 165.55 225.00 163.88 C226.67 162.20 228.33 160.42 230.00 158.61 C231.67 156.80 233.33 154.91 235.00 153.02 C236.67 151.13 238.33 149.20 240.00 147.26 C241.67 145.32 243.33 143.27 245.00 141.36 C246.67 139.44 248.33 137.64 250.00 135.79 C251.67 133.95 253.33 132.09 255.00 130.28 C256.67 128.48 258.17 126.80 260.00 124.96 C261.83 123.13 264.00 121.08 266.00 119.25 C268.00 117.42 269.67 115.83 272.00 114.00 C274.33 112.18 277.00 110.16 280.00 108.29 C283.00 106.42 286.67 104.62 290.00 102.77 C293.33 100.92 296.67 98.85 300.00 97.18 C303.33 95.52 306.67 94.13 310.00 92.77 C313.33 91.42 316.67 90.25 320.00 89.06 C323.33 87.87 326.67 86.74 330.00 85.63 C333.33 84.52 336.67 83.41 340.00 82.39 C343.33 81.36 346.67 80.41 350.00 79.48 C353.33 78.54 356.67 77.60 360.00 76.77 C363.33 75.93 366.67 75.21 370.00 74.46 C373.33 73.70 376.67 72.98 380.00 72.24 C383.33 71.51 386.67 70.77 390.00 70.03 C393.33 69.30 397.33 68.45 400.00 67.82 C402.67 67.19 404.33 66.70 406.00 66.27 C407.67 65.83 408.68 65.53 410.00 65.20 C411.32 64.87 412.50 65.23 413.90 64.30 C415.30 63.37 416.92 61.17 418.40 59.60 C419.88 58.03 421.53 56.10 422.80 54.90 C424.07 53.70 424.02 53.25 426.00 52.40 C427.98 51.55 432.37 50.47 434.70 49.80 C437.03 49.13 437.55 49.13 440.00 48.40 C442.45 47.67 446.90 46.18 449.40 45.40 C451.90 44.62 452.93 44.27 455.00 43.70 C457.07 43.13 459.30 42.60 461.80 42.00 C464.30 41.40 466.97 40.68 470.00 40.10 C473.03 39.52 475.83 39.12 480.00 38.50 C484.17 37.88 489.85 37.02 495.00 36.40 C500.15 35.78 505.07 35.25 510.90 34.80 C516.73 34.35 523.20 34.02 530.00 33.70 C536.80 33.38 544.20 33.15 551.70 32.90 C559.20 32.65 568.62 32.38 575.00 32.20 C581.38 32.02 586.33 31.90 590.00 31.80 C593.67 31.70 595.27 31.63 597.00 31.60 C598.73 31.57 599.83 31.60 600.40 31.60" stroke="#000" stroke-width="1.20"/>
<path d="M161.70 220.05 C161.92 219.56 162.52 217.99 163.00 217.14 C163.48 216.29 164.02 215.82 164.60 214.95 C165.18 214.08 165.82 212.93 166.50 211.92 C167.18 210.91 167.87 209.89 168.70 208.90 C169.53 207.91 170.53 206.92 171.50 205.98 C172.47 205.04 173.33 204.16 174.50 203.27 C175.67 202.38 177.13 201.54 178.50 200.66 C179.87 199.77 181.62 198.65 182.70 197.99 C183.78 197.32 184.12 197.25 185.00 196.69 C185.88 196.12 187.00 195.28 188.00 194.59 C189.00 193.91 189.83 193.42 191.00 192.56 C192.17 191.70 193.50 190.64 195.00 189.46 C196.50 188.28 198.33 186.75 200.00 185.47 C201.67 184.19 203.33 182.97 205.00 181.80 C206.67 180.63 208.33 179.77 210.00 178.45 C211.67 177.13 213.33 175.47 215.00 173.87 C216.67 172.27 218.33 170.50 220.00 168.87 C221.67 167.24 223.33 165.75 225.00 164.07 C226.67 162.40 228.33 160.62 230.00 158.81 C231.67 157.00 233.33 155.09 235.00 153.22 C236.67 151.34 238.33 149.46 240.00 147.54 C241.67 145.62 243.33 143.59 245.00 141.70 C246.67 139.80 248.33 138.01 250.00 136.18 C251.67 134.35 253.33 132.49 255.00 130.69 C256.67 128.89 258.17 127.22 260.00 125.38 C261.83 123.54 264.00 121.49 266.00 119.65 C268.00 117.81 269.67 116.19 272.00 114.34 C274.33 112.48 277.00 110.42 280.00 108.53 C283.00 106.65 286.67 104.87 290.00 103.02 C293.33 101.17 296.67 99.10 300.00 97.44 C303.33 95.77 306.67 94.38 310.00 93.03 C313.33 91.68 316.67 90.51 320.00 89.32 C323.33 88.13 326.67 87.01 330.00 85.90 C333.33 84.78 336.67 83.68 340.00 82.66 C343.33 81.63 346.67 80.69 350.00 79.75 C353.33 78.81 356.67 77.88 360.00 77.04 C363.33 76.21 366.67 75.49 370.00 74.74 C373.33 73.98 376.67 73.26 380.00 72.53 C383.33 71.79 386.67 71.06 390.00 70.32 C393.33 69.59 397.33 68.74 400.00 68.11 C402.67 67.49 404.08 67.08 406.00 66.56 C407.92 66.04 410.00 65.30 411.50 65.01 C413.00 64.71 413.85 64.92 415.00 64.80 C416.15 64.68 416.93 64.63 418.40 64.30 C419.87 63.97 422.23 63.53 423.80 62.80 C425.37 62.07 426.88 60.80 427.80 59.90 C428.72 59.00 428.77 58.47 429.30 57.40 C429.83 56.33 430.10 54.68 431.00 53.50 C431.90 52.32 433.20 51.08 434.70 50.30 C436.20 49.52 437.55 49.55 440.00 48.80 C442.45 48.05 446.90 46.58 449.40 45.80 C451.90 45.02 452.93 44.67 455.00 44.10 C457.07 43.53 459.30 43.00 461.80 42.40 C464.30 41.80 466.97 41.08 470.00 40.50 C473.03 39.92 475.83 39.52 480.00 38.90 C484.17 38.28 489.85 37.42 495.00 36.80 C500.15 36.18 505.07 35.65 510.90 35.20 C516.73 34.75 523.20 34.42 530.00 34.10 C536.80 33.78 544.20 33.55 551.70 33.30 C559.20 33.05 568.62 32.78 575.00 32.60 C581.38 32.42 586.33 32.30 590.00 32.20 C593.67 32.10 595.27 32.03 597.00 32.00 C598.73 31.97 599.83 32.00 600.40 32.00" stroke="#000" stroke-width="1.20" stroke-dasharray="1.1 3.72"/>
<path d="M161.70 219.55 C161.92 219.06 162.52 217.49 163.00 216.64 C163.48 215.79 164.02 215.32 164.60 214.45 C165.18 213.58 165.82 212.43 166.50 211.42 C167.18 210.41 167.87 209.39 168.70 208.40 C169.53 207.41 170.53 206.42 171.50 205.48 C172.47 204.54 173.33 203.66 174.50 202.77 C175.67 201.88 177.13 201.04 178.50 200.16 C179.87 199.27 181.62 198.15 182.70 197.49 C183.78 196.82 184.12 196.75 185.00 196.19 C185.88 195.62 187.00 194.78 188.00 194.09 C189.00 193.41 189.83 192.92 191.00 192.06 C192.17 191.20 193.50 190.14 195.00 188.96 C196.50 187.78 198.33 186.25 200.00 184.97 C201.67 183.69 203.33 182.47 205.00 181.30 C206.67 180.13 208.33 179.27 210.00 177.95 C211.67 176.63 213.33 174.97 215.00 173.37 C216.67 171.77 218.33 170.00 220.00 168.37 C221.67 166.74 223.33 165.25 225.00 163.57 C226.67 161.90 228.33 160.12 230.00 158.31 C231.67 156.50 233.33 154.61 235.00 152.72 C236.67 150.82 238.33 148.89 240.00 146.94 C241.67 145.00 243.33 142.94 245.00 141.02 C246.67 139.11 248.33 137.30 250.00 135.45 C251.67 133.60 253.33 131.73 255.00 129.93 C256.67 128.12 258.17 126.47 260.00 124.60 C261.83 122.73 264.00 120.61 266.00 118.73 C268.00 116.85 269.67 115.22 272.00 113.34 C274.33 111.46 277.00 109.34 280.00 107.43 C283.00 105.53 286.67 103.77 290.00 101.92 C293.33 100.08 296.67 98.01 300.00 96.35 C303.33 94.69 306.67 93.30 310.00 91.95 C313.33 90.60 316.67 89.44 320.00 88.25 C323.33 87.06 326.67 85.94 330.00 84.83 C333.33 83.72 336.67 82.62 340.00 81.60 C343.33 80.58 346.67 79.63 350.00 78.70 C353.33 77.77 356.67 76.83 360.00 76.00 C363.33 75.17 366.67 74.45 370.00 73.70 C373.33 72.95 376.67 72.22 380.00 71.50 C383.33 70.78 386.67 70.10 390.00 69.40 C393.33 68.70 397.33 67.91 400.00 67.30 C402.67 66.69 404.08 66.13 406.00 65.75 C407.92 65.37 410.02 65.19 411.50 65.00 C412.98 64.81 413.50 65.13 414.90 64.60 C416.30 64.07 418.25 62.83 419.90 61.80 C421.55 60.77 423.15 59.80 424.80 58.40 C426.45 57.00 428.65 54.48 429.80 53.40 C430.95 52.32 430.88 52.37 431.70 51.90 C432.52 51.43 433.32 51.05 434.70 50.60 C436.08 50.15 437.55 49.93 440.00 49.20 C442.45 48.47 446.90 46.98 449.40 46.20 C451.90 45.42 452.93 45.07 455.00 44.50 C457.07 43.93 459.30 43.40 461.80 42.80 C464.30 42.20 466.97 41.48 470.00 40.90 C473.03 40.32 475.83 39.92 480.00 39.30 C484.17 38.68 489.85 37.82 495.00 37.20 C500.15 36.58 505.07 36.05 510.90 35.60 C516.73 35.15 523.20 34.82 530.00 34.50 C536.80 34.18 544.20 33.95 551.70 33.70 C559.20 33.45 568.62 33.18 575.00 33.00 C581.38 32.82 586.33 32.70 590.00 32.60 C593.67 32.50 595.27 32.43 597.00 32.40 C598.73 32.37 599.83 32.40 600.40 32.40" stroke="#00eeee" stroke-width="1.70"/>
<path d="M161.70 215.89 C162.42 216.11 164.62 216.63 166.00 217.17 C167.38 217.70 168.50 218.33 170.00 219.10 C171.50 219.87 173.33 220.82 175.00 221.80 C176.67 222.78 178.33 223.76 180.00 225.00 C181.67 226.24 183.33 227.72 185.00 229.25 C186.67 230.78 188.33 232.66 190.00 234.20 C191.67 235.74 193.33 237.00 195.00 238.50 C196.67 240.00 198.33 241.61 200.00 243.20 C201.67 244.79 203.33 246.39 205.00 248.03 C206.67 249.68 208.33 251.39 210.00 253.07 C211.67 254.74 213.33 256.47 215.00 258.10 C216.67 259.73 218.67 261.77 220.00 262.85 C221.33 263.93 222.00 264.38 223.00 264.60 C224.00 264.83 225.00 264.78 226.00 264.20 C227.00 263.62 228.00 262.50 229.00 261.10 C230.00 259.70 231.00 257.73 232.00 255.80 C233.00 253.87 234.00 251.68 235.00 249.50 C236.00 247.32 236.95 245.08 238.00 242.75 C239.05 240.42 240.17 238.04 241.30 235.50 C242.43 232.96 243.55 230.42 244.80 227.50 C246.05 224.58 247.43 221.25 248.80 218.00 C250.17 214.75 251.60 211.28 253.00 208.00 C254.40 204.72 255.82 201.47 257.20 198.30 C258.58 195.13 260.00 191.97 261.30 189.00 C262.60 186.03 263.77 183.30 265.00 180.50 C266.23 177.70 267.53 174.70 268.70 172.20 C269.87 169.70 270.90 167.70 272.00 165.50 C273.10 163.30 274.25 161.17 275.30 159.00 C276.35 156.83 277.35 154.57 278.30 152.50 C279.25 150.43 280.13 148.40 281.00 146.58 C281.87 144.76 282.58 143.34 283.50 141.58 C284.42 139.82 285.58 137.58 286.50 136.02 C287.42 134.46 288.17 133.36 289.00 132.22 C289.83 131.08 290.50 130.33 291.50 129.21 C292.50 128.08 293.92 126.56 295.00 125.45 C296.08 124.34 296.67 123.89 298.00 122.56 C299.33 121.23 301.33 119.18 303.00 117.50 C304.67 115.82 306.33 114.08 308.00 112.50 C309.67 110.92 311.08 109.62 313.00 108.00 C314.92 106.38 317.17 104.38 319.50 102.80 C321.83 101.22 324.25 99.86 327.00 98.51 C329.75 97.15 333.17 95.78 336.00 94.67 C338.83 93.57 341.25 92.74 344.00 91.89 C346.75 91.03 349.00 90.25 352.50 89.55 C356.00 88.85 360.42 88.09 365.00 87.70 C369.58 87.31 375.00 87.27 380.00 87.20 C385.00 87.13 390.43 87.17 395.00 87.30 C399.57 87.43 404.48 87.93 407.40 88.00 C410.32 88.07 411.07 87.90 412.50 87.70 C413.93 87.50 414.75 87.20 416.00 86.80 C417.25 86.40 417.78 86.52 420.00 85.30 C422.22 84.08 426.20 81.63 429.30 79.50 C432.40 77.37 435.52 74.88 438.60 72.50 C441.68 70.12 444.72 67.52 447.80 65.20 C450.88 62.88 454.32 60.47 457.10 58.60 C459.88 56.73 462.35 55.23 464.50 54.00 C466.65 52.77 468.58 52.00 470.00 51.20 C471.42 50.40 471.33 49.97 473.00 49.20 C474.67 48.43 477.17 47.42 480.00 46.60 C482.83 45.78 486.67 44.95 490.00 44.30 C493.33 43.65 495.00 43.30 500.00 42.70 C505.00 42.10 513.33 41.27 520.00 40.70 C526.67 40.13 533.33 39.72 540.00 39.30 C546.67 38.88 553.33 38.52 560.00 38.20 C566.67 37.88 575.00 37.60 580.00 37.40 C585.00 37.20 587.50 37.20 590.00 37.00 C592.50 36.80 593.58 36.62 595.00 36.20 C596.42 35.78 597.60 35.30 598.50 34.50 C599.40 33.70 600.08 31.92 600.40 31.40" stroke="#000" stroke-width="1.20"/>
<path d="M161.70 216.19 C162.42 216.41 164.62 216.93 166.00 217.47 C167.38 218.00 168.50 218.61 170.00 219.40 C171.50 220.19 173.33 221.18 175.00 222.20 C176.67 223.22 178.33 224.24 180.00 225.50 C181.67 226.76 183.33 228.22 185.00 229.75 C186.67 231.28 188.33 233.16 190.00 234.70 C191.67 236.24 193.33 237.50 195.00 239.00 C196.67 240.50 198.33 242.11 200.00 243.70 C201.67 245.29 203.33 246.89 205.00 248.53 C206.67 250.18 208.33 251.89 210.00 253.57 C211.67 255.24 213.33 256.97 215.00 258.60 C216.67 260.23 218.67 262.27 220.00 263.35 C221.33 264.43 222.00 264.88 223.00 265.10 C224.00 265.33 225.00 265.28 226.00 264.70 C227.00 264.12 228.00 263.00 229.00 261.60 C230.00 260.20 231.00 258.23 232.00 256.30 C233.00 254.37 234.00 252.18 235.00 250.00 C236.00 247.82 236.95 245.58 238.00 243.25 C239.05 240.92 240.17 238.45 241.30 236.00 C242.43 233.55 243.55 231.35 244.80 228.52 C246.05 225.70 247.43 222.28 248.80 219.04 C250.17 215.80 251.60 212.34 253.00 209.06 C254.40 205.78 255.82 202.54 257.20 199.38 C258.58 196.22 260.00 193.06 261.30 190.10 C262.60 187.14 263.77 184.41 265.00 181.61 C266.23 178.82 267.53 175.83 268.70 173.33 C269.87 170.84 270.90 168.84 272.00 166.65 C273.10 164.45 274.25 162.32 275.30 160.16 C276.35 158.00 277.35 155.74 278.30 153.67 C279.25 151.61 280.13 149.58 281.00 147.77 C281.87 145.95 282.58 144.53 283.50 142.78 C284.42 141.02 285.58 138.79 286.50 137.23 C287.42 135.68 288.17 134.57 289.00 133.44 C289.83 132.31 290.50 131.56 291.50 130.44 C292.50 129.32 293.92 127.80 295.00 126.70 C296.08 125.60 296.67 125.14 298.00 123.82 C299.33 122.50 301.33 120.46 303.00 118.79 C304.67 117.12 306.33 115.38 308.00 113.81 C309.67 112.23 311.08 110.94 313.00 109.33 C314.92 107.72 317.17 105.73 319.50 104.16 C321.83 102.59 324.25 101.25 327.00 99.90 C329.75 98.56 333.17 97.20 336.00 96.11 C338.83 95.02 341.25 94.20 344.00 93.36 C346.75 92.52 349.00 91.74 352.50 91.09 C356.00 90.44 360.42 89.77 365.00 89.45 C369.58 89.13 375.00 89.18 380.00 89.20 C385.00 89.22 390.43 89.34 395.00 89.55 C399.57 89.76 404.48 90.33 407.40 90.46 C410.32 90.58 411.07 90.69 412.50 90.28 C413.93 89.87 414.75 88.63 416.00 88.00 C417.25 87.37 417.78 87.67 420.00 86.50 C422.22 85.33 426.20 83.00 429.30 81.00 C432.40 79.00 435.52 76.83 438.60 74.50 C441.68 72.17 444.72 69.42 447.80 67.00 C450.88 64.58 454.32 62.00 457.10 60.00 C459.88 58.00 462.35 56.33 464.50 55.00 C466.65 53.67 468.58 52.55 470.00 52.00 C471.42 51.45 471.33 52.17 473.00 51.68 C474.67 51.18 477.17 49.86 480.00 49.02 C482.83 48.18 486.67 47.32 490.00 46.65 C493.33 45.97 495.00 45.61 500.00 44.97 C505.00 44.33 513.33 43.43 520.00 42.82 C526.67 42.20 533.33 41.73 540.00 41.26 C546.67 40.79 553.33 40.38 560.00 40.01 C566.67 39.64 575.00 39.29 580.00 39.05 C585.00 38.82 587.50 38.80 590.00 38.58 C592.50 38.36 593.58 38.17 595.00 37.74 C596.42 37.31 597.60 36.82 598.50 36.01 C599.40 35.21 600.08 33.42 600.40 32.90" stroke="#000" stroke-width="1.20" stroke-dasharray="1.1 3.72"/>
<path d="M161.70 215.70 C161.92 215.14 162.52 213.34 163.00 212.30 C163.48 211.27 164.02 210.49 164.60 209.51 C165.18 208.52 165.82 207.41 166.50 206.41 C167.18 205.41 167.87 204.44 168.70 203.51 C169.53 202.58 170.53 201.66 171.50 200.81 C172.47 199.96 173.33 199.18 174.50 198.42 C175.67 197.65 177.13 196.95 178.50 196.22 C179.87 195.49 181.62 194.53 182.70 194.03 C183.78 193.53 184.12 193.66 185.00 193.21 C185.88 192.77 187.00 191.99 188.00 191.38 C189.00 190.76 189.83 190.35 191.00 189.54 C192.17 188.73 193.50 187.66 195.00 186.51 C196.50 185.36 198.33 183.82 200.00 182.62 C201.67 181.42 203.33 180.35 205.00 179.30 C206.67 178.25 208.33 177.50 210.00 176.31 C211.67 175.11 213.33 173.59 215.00 172.13 C216.67 170.67 218.33 169.08 220.00 167.55 C221.67 166.02 223.33 164.56 225.00 162.95 C226.67 161.34 228.33 159.62 230.00 157.89 C231.67 156.16 233.33 154.36 235.00 152.55 C236.67 150.74 238.33 148.94 240.00 147.04 C241.67 145.13 243.33 143.04 245.00 141.12 C246.67 139.21 248.33 137.40 250.00 135.55 C251.67 133.71 253.33 131.84 255.00 130.03 C256.67 128.23 258.17 126.55 260.00 124.72 C261.83 122.88 264.00 120.83 266.00 119.00 C268.00 117.18 269.67 115.59 272.00 113.77 C274.33 111.95 277.00 109.94 280.00 108.07 C283.00 106.21 286.67 104.42 290.00 102.58 C293.33 100.73 296.67 98.67 300.00 97.01 C303.33 95.35 306.67 93.97 310.00 92.62 C313.33 91.28 316.67 90.12 320.00 88.93 C323.33 87.75 326.67 86.63 330.00 85.53 C333.33 84.42 336.67 83.33 340.00 82.31 C343.33 81.29 346.67 80.35 350.00 79.42 C353.33 78.49 356.67 77.56 360.00 76.73 C363.33 75.90 366.67 75.19 370.00 74.44 C373.33 73.70 376.67 72.98 380.00 72.25 C383.33 71.52 386.67 70.79 390.00 70.07 C393.33 69.34 397.33 68.50 400.00 67.88 C402.67 67.25 404.45 67.25 406.00 66.30 C407.55 65.35 408.48 63.35 409.30 62.20 C410.12 61.05 409.97 60.45 410.90 59.40 C411.83 58.35 413.57 56.73 414.90 55.90 C416.23 55.07 417.67 54.82 418.90 54.40 C420.13 53.98 420.82 53.88 422.30 53.40 C423.78 52.92 425.73 52.17 427.80 51.50 C429.87 50.83 432.67 49.98 434.70 49.40 C436.73 48.82 437.55 48.73 440.00 48.00 C442.45 47.27 446.90 45.78 449.40 45.00 C451.90 44.22 452.93 43.87 455.00 43.30 C457.07 42.73 459.30 42.20 461.80 41.60 C464.30 41.00 466.97 40.28 470.00 39.70 C473.03 39.12 475.83 38.72 480.00 38.10 C484.17 37.48 489.85 36.62 495.00 36.00 C500.15 35.38 505.07 34.85 510.90 34.40 C516.73 33.95 523.20 33.62 530.00 33.30 C536.80 32.98 544.20 32.75 551.70 32.50 C559.20 32.25 568.62 31.98 575.00 31.80 C581.38 31.62 586.33 31.50 590.00 31.40 C593.67 31.30 595.27 31.23 597.00 31.20 C598.73 31.17 599.83 31.20 600.40 31.20" stroke="#222" stroke-width="1.50" stroke-dasharray="14.6 4 1.2 3.6"/>
<path d="M161.70 215.50 C162.42 215.62 164.62 215.85 166.00 216.20 C167.38 216.55 168.50 217.00 170.00 217.60 C171.50 218.20 173.33 218.98 175.00 219.80 C176.67 220.62 178.33 221.38 180.00 222.50 C181.67 223.62 183.33 225.05 185.00 226.50 C186.67 227.95 188.33 229.70 190.00 231.20 C191.67 232.70 193.33 234.00 195.00 235.50 C196.67 237.00 198.33 238.58 200.00 240.20 C201.67 241.82 203.33 243.50 205.00 245.20 C206.67 246.90 208.33 248.67 210.00 250.40 C211.67 252.13 213.33 253.90 215.00 255.60 C216.67 257.30 218.67 259.45 220.00 260.60 C221.33 261.75 222.00 262.22 223.00 262.50 C224.00 262.78 225.00 262.80 226.00 262.30 C227.00 261.80 228.00 260.80 229.00 259.50 C230.00 258.20 231.00 256.33 232.00 254.50 C233.00 252.67 234.00 250.58 235.00 248.50 C236.00 246.42 236.95 244.25 238.00 242.00 C239.05 239.75 240.17 237.28 241.30 235.00 C242.43 232.72 243.55 231.07 244.80 228.34 C246.05 225.60 247.43 221.88 248.80 218.58 C250.17 215.27 251.60 211.80 253.00 208.51 C254.40 205.22 255.82 201.98 257.20 198.82 C258.58 195.66 260.00 192.50 261.30 189.53 C262.60 186.57 263.77 183.84 265.00 181.04 C266.23 178.25 267.53 175.25 268.70 172.76 C269.87 170.26 270.90 168.26 272.00 166.07 C273.10 163.87 274.25 161.74 275.30 159.58 C276.35 157.41 277.35 155.15 278.30 153.08 C279.25 151.02 280.13 148.99 281.00 147.17 C281.87 145.36 282.58 143.94 283.50 142.18 C284.42 140.42 285.58 138.19 286.50 136.63 C287.42 135.07 288.17 133.97 289.00 132.84 C289.83 131.70 290.50 130.95 291.50 129.83 C292.50 128.70 293.92 127.19 295.00 126.09 C296.08 124.98 296.67 124.53 298.00 123.20 C299.33 121.88 301.33 119.83 303.00 118.16 C304.67 116.49 306.33 114.75 308.00 113.17 C309.67 111.60 311.08 110.30 313.00 108.69 C314.92 107.08 317.17 105.08 319.50 103.51 C321.83 101.93 324.25 100.59 327.00 99.24 C329.75 97.89 333.17 96.53 336.00 95.43 C338.83 94.34 341.25 93.51 344.00 92.67 C346.75 91.83 349.00 91.05 352.50 90.40 C356.00 89.75 360.42 89.10 365.00 88.80 C369.58 88.50 375.00 88.57 380.00 88.60 C385.00 88.63 390.43 88.78 395.00 89.00 C399.57 89.22 404.48 89.82 407.40 89.95 C410.32 90.08 411.07 90.09 412.50 89.76 C413.93 89.44 414.75 88.49 416.00 88.00 C417.25 87.51 417.78 87.88 420.00 86.80 C422.22 85.72 426.20 83.47 429.30 81.50 C432.40 79.53 435.52 77.33 438.60 75.00 C441.68 72.67 444.72 69.92 447.80 67.50 C450.88 65.08 454.32 62.58 457.10 60.50 C459.88 58.42 462.35 56.42 464.50 55.00 C466.65 53.58 468.58 52.64 470.00 52.00 C471.42 51.36 471.33 51.76 473.00 51.18 C474.67 50.60 477.17 49.36 480.00 48.52 C482.83 47.68 486.67 46.82 490.00 46.15 C493.33 45.47 495.00 45.11 500.00 44.47 C505.00 43.83 513.33 42.93 520.00 42.32 C526.67 41.70 533.33 41.23 540.00 40.76 C546.67 40.29 553.33 39.88 560.00 39.51 C566.67 39.14 575.00 38.79 580.00 38.55 C585.00 38.32 587.50 38.30 590.00 38.08 C592.50 37.86 593.58 37.67 595.00 37.24 C596.42 36.81 597.60 36.32 598.50 35.51 C599.40 34.71 600.08 32.92 600.40 32.40" stroke="#222" stroke-width="1.50" stroke-dasharray="14.6 4 1.2 3.6"/>
<path d="M161.70 220.26 C161.92 219.84 162.52 218.44 163.00 217.74 C163.48 217.04 164.02 216.74 164.60 216.03 C165.18 215.32 165.82 214.36 166.50 213.49 C167.18 212.61 167.87 211.64 168.70 210.76 C169.53 209.88 170.53 209.07 171.50 208.21 C172.47 207.35 173.33 206.46 174.50 205.60 C175.67 204.73 177.13 203.92 178.50 203.03 C179.87 202.13 181.62 200.95 182.70 200.23 C183.78 199.51 184.12 199.36 185.00 198.71 C185.88 198.06 187.00 197.12 188.00 196.34 C189.00 195.56 189.83 194.99 191.00 194.03 C192.17 193.06 193.50 191.81 195.00 190.55 C196.50 189.29 198.33 187.76 200.00 186.47 C201.67 185.18 203.33 183.97 205.00 182.80 C206.67 181.63 208.33 180.79 210.00 179.45 C211.67 178.11 213.33 176.38 215.00 174.74 C216.67 173.11 218.33 171.29 220.00 169.62 C221.67 167.95 223.33 166.42 225.00 164.70 C226.67 162.98 228.33 161.15 230.00 159.31 C231.67 157.47 233.33 155.56 235.00 153.63 C236.67 151.71 238.33 149.77 240.00 147.78 C241.67 145.78 243.33 143.64 245.00 141.67 C246.67 139.69 248.33 137.83 250.00 135.93 C251.67 134.02 253.33 132.11 255.00 130.26 C256.67 128.41 258.17 126.70 260.00 124.81 C261.83 122.93 264.00 120.83 266.00 118.97 C268.00 117.11 269.67 115.50 272.00 113.66 C274.33 111.82 277.00 109.81 280.00 107.93 C283.00 106.06 286.67 104.27 290.00 102.42 C293.33 100.58 296.67 98.51 300.00 96.85 C303.33 95.19 306.67 93.80 310.00 92.45 C313.33 91.10 316.67 89.94 320.00 88.75 C323.33 87.56 326.67 86.44 330.00 85.33 C333.33 84.22 336.67 83.12 340.00 82.10 C343.33 81.08 346.67 80.13 350.00 79.20 C353.33 78.27 356.67 77.33 360.00 76.50 C363.33 75.67 366.67 74.95 370.00 74.20 C373.33 73.45 376.67 72.73 380.00 72.00 C383.33 71.27 386.67 70.53 390.00 69.80 C393.33 69.07 397.30 68.23 400.00 67.60 C402.70 66.97 404.28 66.52 406.20 66.00 C408.12 65.48 409.87 64.90 411.50 64.50 C413.13 64.10 415.25 63.75 416.00 63.60" stroke="#000" stroke-width="1.40" stroke-dasharray="11.2 4"/>
<path d="M418.50 55.30 C418.97 55.00 419.75 54.10 421.30 53.50 C422.85 52.90 425.57 52.35 427.80 51.70 C430.03 51.05 432.67 50.18 434.70 49.60 C436.73 49.02 437.55 48.93 440.00 48.20 C442.45 47.47 446.90 45.98 449.40 45.20 C451.90 44.42 452.93 44.07 455.00 43.50 C457.07 42.93 459.30 42.40 461.80 41.80 C464.30 41.20 466.97 40.48 470.00 39.90 C473.03 39.32 475.83 38.92 480.00 38.30 C484.17 37.68 489.85 36.82 495.00 36.20 C500.15 35.58 505.07 35.05 510.90 34.60 C516.73 34.15 523.20 33.82 530.00 33.50 C536.80 33.18 544.20 32.95 551.70 32.70 C559.20 32.45 568.62 32.18 575.00 32.00 C581.38 31.82 586.33 31.70 590.00 31.60 C593.67 31.50 595.27 31.43 597.00 31.40 C598.73 31.37 599.83 31.40 600.40 31.40" stroke="#000" stroke-width="1.40" stroke-dasharray="11.2 4"/>
<path d="M161.50 219.61 C162.08 219.94 163.88 220.87 165.00 221.59 C166.12 222.30 167.03 223.03 168.20 223.90 C169.37 224.77 170.62 225.79 172.00 226.80 C173.38 227.81 175.17 228.98 176.50 229.95 C177.83 230.92 178.90 231.68 180.00 232.60 C181.10 233.52 182.02 234.49 183.10 235.45 C184.18 236.40 185.35 237.29 186.50 238.32 C187.65 239.35 188.58 240.27 190.00 241.60 C191.42 242.93 193.33 244.70 195.00 246.30 C196.67 247.90 198.33 249.58 200.00 251.20 C201.67 252.82 203.33 254.40 205.00 256.00 C206.67 257.60 208.33 259.30 210.00 260.80 C211.67 262.30 213.50 263.85 215.00 265.00 C216.50 266.15 217.83 267.11 219.00 267.72 C220.17 268.33 221.00 268.56 222.00 268.63 C223.00 268.71 224.00 268.71 225.00 268.18 C226.00 267.66 227.00 266.72 228.00 265.47 C229.00 264.21 230.00 262.49 231.00 260.67 C232.00 258.84 233.00 256.71 234.00 254.52 C235.00 252.34 236.00 249.98 237.00 247.56 C238.00 245.14 239.08 242.30 240.00 240.00 C240.92 237.70 241.70 235.77 242.50 233.75 C243.30 231.73 243.75 230.41 244.80 227.86 C245.85 225.30 247.43 221.64 248.80 218.40 C250.17 215.17 251.60 211.72 253.00 208.45 C254.40 205.18 255.82 201.95 257.20 198.80 C258.58 195.65 260.00 192.50 261.30 189.55 C262.60 186.60 263.77 183.88 265.00 181.09 C266.23 178.31 267.53 175.32 268.70 172.83 C269.87 170.35 270.90 168.36 272.00 166.17 C273.10 163.99 274.25 161.87 275.30 159.71 C276.35 157.56 277.35 155.31 278.30 153.25 C279.25 151.19 280.13 149.17 281.00 147.36 C281.87 145.55 282.58 144.14 283.50 142.39 C284.42 140.64 285.58 138.41 286.50 136.86 C287.42 135.31 288.17 134.22 289.00 133.09 C289.83 131.97 290.50 131.22 291.50 130.11 C292.50 128.99 293.92 127.49 295.00 126.39 C296.08 125.30 296.67 124.85 298.00 123.54 C299.33 122.22 301.33 120.18 303.00 118.51 C304.67 116.84 306.33 115.09 308.00 113.51 C309.67 111.93 311.08 110.64 313.00 109.02 C314.92 107.41 317.17 105.41 319.50 103.84 C321.83 102.26 324.25 100.91 327.00 99.56 C329.75 98.21 333.17 96.84 336.00 95.74 C338.83 94.64 341.25 93.82 344.00 92.97 C346.75 92.12 349.00 91.34 352.50 90.65 C356.00 89.95 360.42 89.20 365.00 88.82 C369.58 88.43 375.00 88.40 380.00 88.35 C385.00 88.29 390.43 88.33 395.00 88.47 C399.57 88.61 404.48 89.07 407.40 89.20 C410.32 89.32 411.07 89.35 412.50 89.25 C413.93 89.15 414.75 88.89 416.00 88.60 C417.25 88.31 417.95 88.27 420.00 87.50 C422.05 86.73 425.20 85.67 428.30 84.00 C431.40 82.33 435.35 79.98 438.60 77.50 C441.85 75.02 444.72 71.73 447.80 69.10 C450.88 66.47 454.47 63.87 457.10 61.70 C459.73 59.53 461.45 57.63 463.60 56.10 C465.75 54.57 468.43 53.17 470.00 52.50 C471.57 51.83 471.33 52.73 473.00 52.08 C474.67 51.43 477.17 49.58 480.00 48.60 C482.83 47.62 486.67 46.87 490.00 46.17 C493.33 45.48 495.00 45.11 500.00 44.45 C505.00 43.79 513.33 42.85 520.00 42.20 C526.67 41.55 533.33 41.05 540.00 40.55 C546.67 40.05 553.33 39.60 560.00 39.20 C566.67 38.80 575.00 38.41 580.00 38.15 C585.00 37.89 587.50 37.86 590.00 37.62 C592.50 37.39 593.58 37.20 595.00 36.76 C596.42 36.33 597.60 35.83 598.50 35.02 C599.40 34.21 600.08 32.42 600.40 31.90" stroke="#000" stroke-width="1.40" stroke-dasharray="11.2 4"/>
</g>
<g stroke="#111" stroke-width="1.3" fill="none">
<rect x="89.5" y="9.0" width="584.0" height="409.6"/>
<line x1="83.2" y1="9.00" x2="89.5" y2="9.00"/>
<line x1="83.2" y1="77.27" x2="89.5" y2="77.27"/>
<line x1="83.2" y1="145.53" x2="89.5" y2="145.53"/>
<line x1="83.2" y1="213.80" x2="89.5" y2="213.80"/>
<line x1="83.2" y1="282.07" x2="89.5" y2="282.07"/>
<line x1="83.2" y1="350.33" x2="89.5" y2="350.33"/>
<line x1="83.2" y1="418.60" x2="89.5" y2="418.60"/>
<line x1="89.50" y1="418.6" x2="89.50" y2="424.9"/>
<line x1="162.50" y1="418.6" x2="162.50" y2="424.9"/>
<line x1="235.50" y1="418.6" x2="235.50" y2="424.9"/>
<line x1="308.50" y1="418.6" x2="308.50" y2="424.9"/>
<line x1="381.50" y1="418.6" x2="381.50" y2="424.9"/>
<line x1="454.50" y1="418.6" x2="454.50" y2="424.9"/>
<line x1="527.50" y1="418.6" x2="527.50" y2="424.9"/>
<line x1="600.50" y1="418.6" x2="600.50" y2="424.9"/>
<line x1="673.50" y1="418.6" x2="673.50" y2="424.9"/>
</g>
<g class="sans">
<text x="75.3" y="14.6" text-anchor="end">0</text>
<text x="75.3" y="82.9" text-anchor="end">-100</text>
<text x="75.3" y="151.1" text-anchor="end">-200</text>
<text x="75.3" y="219.4" text-anchor="end">-300</text>
<text x="75.3" y="287.7" text-anchor="end">-400</text>
<text x="75.3" y="355.9" text-anchor="end">-500</text>
<text x="75.3" y="424.2" text-anchor="end">-600</text>
<text x="89.50" y="447.6" text-anchor="middle">-1.2</text>
<text x="162.50" y="447.6" text-anchor="middle">-1.0</text>
<text x="235.50" y="447.6" text-anchor="middle">-0.8</text>
<text x="308.50" y="447.6" text-anchor="middle">-0.6</text>
<text x="381.50" y="447.6" text-anchor="middle">-0.4</text>
<text x="454.50" y="447.6" text-anchor="middle">-0.2</text>
<text x="527.50" y="447.6" text-anchor="middle">0.0</text>
<text x="600.50" y="447.6" text-anchor="middle">0.2</text>
<text x="673.50" y="447.6" text-anchor="middle">0.4</text>
</g>
<g class="sans">
<rect x="477.5" y="165" width="173.5" height="204" fill="#fff" stroke="#111" stroke-width="1.3"/>
<line x1="488.6" y1="186.20" x2="560.0" y2="186.20" stroke="#f00000" stroke-width="1.9"/>
<text x="577.5" y="192.30">Cycle 1</text>
<line x1="488.6" y1="204.13" x2="560.0" y2="204.13" stroke="#00ee00" stroke-width="1.9"/>
<text x="577.5" y="210.23">Cycle 2</text>
<line x1="488.6" y1="222.06" x2="560.0" y2="222.06" stroke="#0000e6" stroke-width="1.9"/>
<text x="577.5" y="228.16">Cycle 3</text>
<line x1="488.6" y1="239.99" x2="560.0" y2="239.99" stroke="#ee00ee" stroke-width="1.9"/>
<text x="577.5" y="246.09">Cycle 4</text>
<line x1="488.6" y1="257.92" x2="560.0" y2="257.92" stroke="#007800" stroke-width="1.9"/>
<text x="577.5" y="264.02">Cycle 5</text>
<line x1="488.6" y1="275.85" x2="556.0" y2="275.85" stroke="#3c3c3c" stroke-width="1.9" stroke-dasharray="14.6 4 1.2 3.6"/>
<text x="577.5" y="281.95">Cycle 6</text>
<line x1="488.6" y1="293.78" x2="560.0" y2="293.78" stroke="#00eeee" stroke-width="1.9"/>
<text x="577.5" y="299.88">Cycle 7</text>
<line x1="488.6" y1="311.50" x2="560.0" y2="311.50" stroke="#000" stroke-width="1.1"/>
<text x="577.5" y="317.60">Cycle 8</text>
<line x1="488.6" y1="329.64" x2="557.0" y2="329.64" stroke="#000" stroke-width="1.2" stroke-dasharray="1.1 3.72"/>
<text x="577.5" y="335.74">Cycle 9</text>
<line x1="488.6" y1="347.57" x2="560.0" y2="347.57" stroke="#000" stroke-width="1.6" stroke-dasharray="11.2 4"/>
<text x="577.5" y="353.67">Cycle 10</text>
</g>
<text class="serif" x="337.5" y="478">E (V)</text>
<text class="serif" transform="translate(15,266) rotate(-90)">I<tspan dy="6.5">pa</tspan><tspan dy="-6.5" letter-spacing="0.4"> (µA)</tspan></text>
</svg>
</body></html>
